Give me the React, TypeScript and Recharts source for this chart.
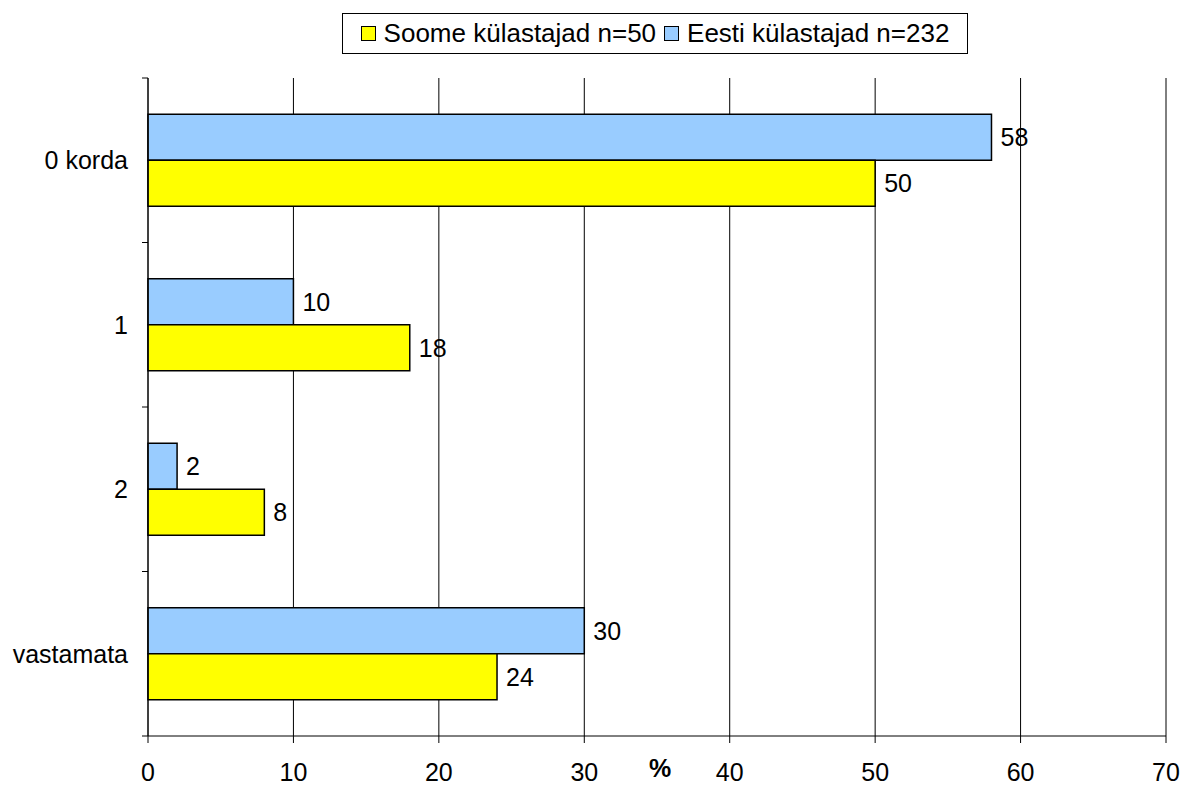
import {
  BarChart,
  Bar,
  XAxis,
  YAxis,
  CartesianGrid,
  LabelList,
} from "recharts";

const categories = ["0 korda", "1", "2", "vastamata"];
const eesti = [58, 10, 2, 30];
const soome = [50, 18, 8, 24];
const xTicks = [0, 10, 20, 30, 40, 50, 60, 70];

const data = categories.map((name, i) => ({
  name,
  eesti: eesti[i],
  soome: soome[i],
}));

const FONT = "'Liberation Sans', Arial, sans-serif";
const FS = 25;
const PLOT_H = 658;
const BAND = PLOT_H / categories.length;

const CategoryTick = (props: any) => {
  const { x, y, payload, index } = props;
  return (
    <g>
      <line x1={x - 6} x2={x} y1={y - BAND / 2} y2={y - BAND / 2} stroke="#000" />
      {index === categories.length - 1 && (
        <line x1={x - 6} x2={x} y1={y + BAND / 2} y2={y + BAND / 2} stroke="#000" />
      )}
      <text
        x={x - 20}
        y={y}
        textAnchor="end"
        dominantBaseline="central"
        fontSize={FS}
        fontFamily={FONT}
        fill="#000"
      >
        {payload.value}
      </text>
    </g>
  );
};

export default function App() {
  return (
    <div style={{ position: "absolute", left: 0, top: 0, width: 1190, height: 785, background: "#fff", fontFamily: FONT }}>
      <div
        style={{
          position: "absolute",
          left: 342,
          top: 13,
          width: 626,
          height: 41,
          border: "1px solid #000",
          boxSizing: "border-box",
          display: "flex",
          alignItems: "center",
          justifyContent: "center",
          fontSize: 26,
          color: "#000",
          whiteSpace: "nowrap",
        }}
      >
        <span style={{ display: "inline-block", width: 13, height: 13, background: "#FFFF00", border: "1.5px solid #000", marginRight: 8 }} />
        <span style={{ marginRight: 8 }}>Soome külastajad n=50</span>
        <span style={{ display: "inline-block", width: 13, height: 13, background: "#99CCFF", border: "1.5px solid #000", marginRight: 8 }} />
        <span>Eesti külastajad n=232</span>
      </div>
      <BarChart
        width={1190}
        height={785}
        data={data}
        layout="vertical"
        margin={{ top: 78, right: 24, bottom: 0, left: 0 }}
        barCategoryGap="22%"
        barGap={0}
      >
        <CartesianGrid horizontal={false} stroke="#000" strokeWidth={1} />
        <XAxis
          type="number"
          domain={[0, 70]}
          ticks={xTicks}
          interval={0}
          height={49}
          stroke="#000"
          tickSize={7}
          tickMargin={20}
          tick={{ fill: "#000", fontSize: FS, fontFamily: FONT }}
          label={{ value: "%", position: "insideBottom", offset: 8, dx: 3, fontSize: FS, fontWeight: "bold", fill: "#000", fontFamily: FONT }}
        />
        <XAxis
          xAxisId="top"
          orientation="top"
          type="number"
          domain={[0, 70]}
          height={0}
          tick={false}
          tickLine={false}
          axisLine={{ stroke: "#808080", strokeWidth: 1.5 }}
        />
        <YAxis
          type="category"
          dataKey="name"
          width={148}
          stroke="#000"
          tickLine={false}
          tickSize={0}
          tickMargin={0}
          tick={<CategoryTick />}
        />
        <YAxis
          yAxisId="right"
          orientation="right"
          type="category"
          dataKey="name"
          width={0}
          tick={false}
          tickLine={false}
          axisLine={{ stroke: "#808080", strokeWidth: 1.5 }}
        />
        <Bar dataKey="eesti" fill="#99CCFF" stroke="#000" strokeWidth={1.5} isAnimationActive={false}>
          <LabelList dataKey="eesti" position="right" offset={9} fill="#000" fontSize={FS} fontFamily={FONT} />
        </Bar>
        <Bar dataKey="soome" fill="#FFFF00" stroke="#000" strokeWidth={1.5} isAnimationActive={false}>
          <LabelList dataKey="soome" position="right" offset={9} fill="#000" fontSize={FS} fontFamily={FONT} />
        </Bar>
      </BarChart>
    </div>
  );
}
